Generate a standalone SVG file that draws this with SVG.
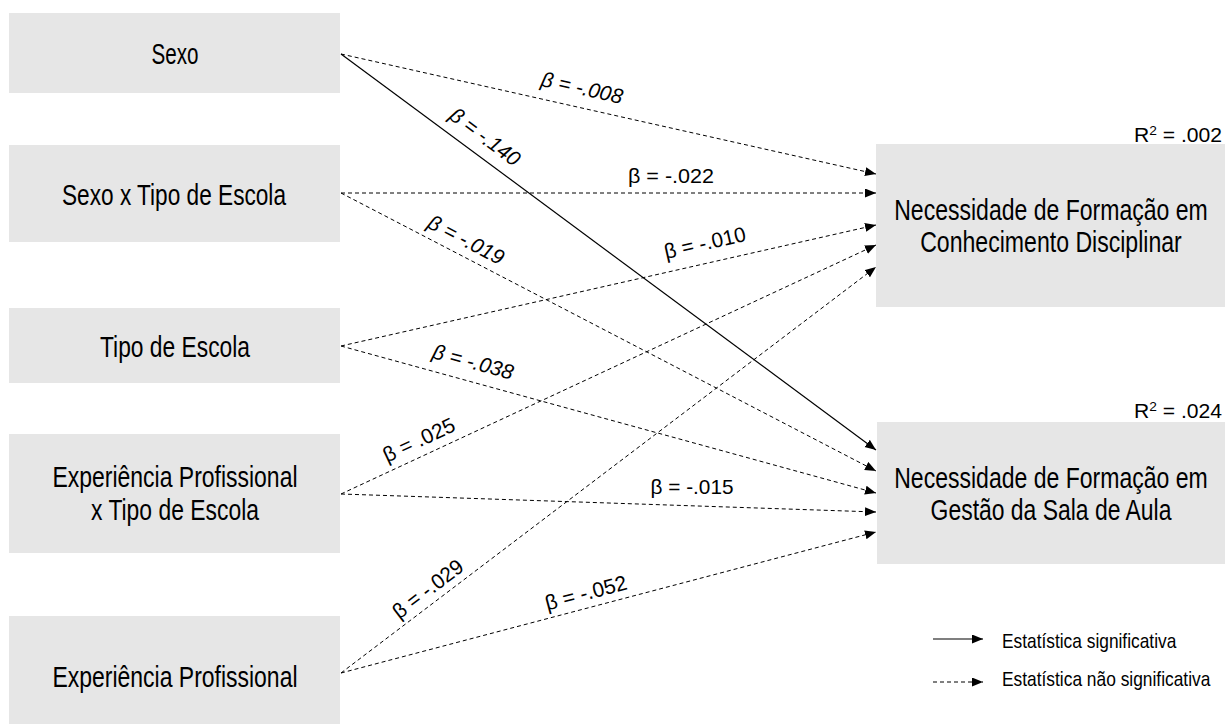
<svg xmlns="http://www.w3.org/2000/svg" width="1225" height="724" viewBox="0 0 1225 724">
<style>
.box{fill:#e6e6e6;stroke:none}
.nt{font-family:"Liberation Sans Narrow","Liberation Sans",Arial,sans-serif;font-size:29px;fill:#000;text-anchor:middle}
.lb{font-family:"Liberation Sans Narrow","Liberation Sans",Arial,sans-serif;font-size:21px;fill:#000;text-anchor:middle}
.it{font-style:italic}
.r2{font-family:"Liberation Sans Narrow","Liberation Sans",Arial,sans-serif;font-size:20px;fill:#000;text-anchor:end}
.lg{font-family:"Liberation Sans Narrow","Liberation Sans",Arial,sans-serif;font-size:20px;fill:#000}
.dash{stroke:#000;stroke-width:1;stroke-dasharray:4 3;fill:none;marker-end:url(#ah)}
.solid{stroke:#000;stroke-width:1.2;fill:none;marker-end:url(#ah)}
</style>
<defs>
<marker id="ah" markerUnits="userSpaceOnUse" markerWidth="12" markerHeight="10" refX="11" refY="4.5" orient="auto">
<path d="M0,0 L11,4.5 L0,9 z" fill="#000"/>
</marker>
</defs>
<rect width="1225" height="724" fill="#fff"/>

<g id="node-sexo">
<rect class="box" x="9" y="13" width="331" height="80"/>
<text class="nt" x="175" y="64" textLength="47" lengthAdjust="spacingAndGlyphs">Sexo</text>
</g>
<g id="node-sexo-tipo">
<rect class="box" x="9" y="145" width="331" height="97"/>
<text class="nt" x="174" y="205" textLength="224" lengthAdjust="spacingAndGlyphs">Sexo x Tipo de Escola</text>
</g>
<g id="node-tipo">
<rect class="box" x="9" y="308" width="331" height="75"/>
<text class="nt" x="175" y="357" textLength="150" lengthAdjust="spacingAndGlyphs">Tipo de Escola</text>
</g>
<g id="node-exp-tipo">
<rect class="box" x="9" y="434" width="331" height="119"/>
<text class="nt" x="175" y="487" textLength="245" lengthAdjust="spacingAndGlyphs">Experiência Profissional</text>
<text class="nt" x="175" y="520" textLength="168" lengthAdjust="spacingAndGlyphs">x Tipo de Escola</text>
</g>
<g id="node-exp">
<rect class="box" x="9" y="616" width="331" height="108"/>
<text class="nt" x="175" y="687" textLength="245" lengthAdjust="spacingAndGlyphs">Experiência Profissional</text>
</g>

<g id="node-conhecimento">
<rect class="box" x="876" y="144" width="349" height="163"/>
<text class="nt" transform="translate(1051,220) scale(0.8,1)" textLength="392" lengthAdjust="spacingAndGlyphs">Necessidade de Formação em</text>
<text class="nt" transform="translate(1051,252) scale(0.8,1)" textLength="327" lengthAdjust="spacingAndGlyphs">Conhecimento Disciplinar</text>
<text class="r2" x="1222" y="142" textLength="88" lengthAdjust="spacingAndGlyphs">R<tspan font-size="13" dy="-7">2</tspan><tspan dy="7"> = .002</tspan></text>
</g>
<g id="node-gestao">
<rect class="box" x="877" y="422" width="348" height="142"/>
<text class="nt" transform="translate(1051,488) scale(0.8,1)" textLength="392" lengthAdjust="spacingAndGlyphs">Necessidade de Formação em</text>
<text class="nt" transform="translate(1051,520) scale(0.8,1)" textLength="301" lengthAdjust="spacingAndGlyphs">Gestão da Sala de Aula</text>
<text class="r2" x="1222" y="418" textLength="88" lengthAdjust="spacingAndGlyphs">R<tspan font-size="13" dy="-7">2</tspan><tspan dy="7"> = .024</tspan></text>
</g>

<g id="connectors">
<line class="dash" x1="341" y1="54" x2="876" y2="174"/>
<line class="solid" x1="341" y1="54" x2="876" y2="450"/>
<line class="dash" x1="341" y1="193" x2="876" y2="193"/>
<line class="dash" x1="341" y1="193" x2="876" y2="471"/>
<line class="dash" x1="341" y1="346" x2="876" y2="225"/>
<line class="dash" x1="341" y1="346" x2="876" y2="493"/>
<line class="dash" x1="341" y1="494" x2="876" y2="245"/>
<line class="dash" x1="341" y1="494" x2="876" y2="512"/>
<line class="dash" x1="341" y1="673" x2="876" y2="267"/>
<line class="dash" x1="341" y1="673" x2="876" y2="532"/>
</g>

<g id="labels">
<text class="lb it" transform="translate(582,88) rotate(12.7)" y="7" textLength="83" lengthAdjust="spacingAndGlyphs">β = -.008</text>
<text class="lb it" transform="translate(485,137) rotate(36.7)" y="7" textLength="82" lengthAdjust="spacingAndGlyphs">β = -.140</text>
<text class="lb" transform="translate(671,176)" y="7" textLength="86" lengthAdjust="spacingAndGlyphs">β = -.022</text>
<text class="lb it" transform="translate(466,240) rotate(27.6)" y="7" textLength="83" lengthAdjust="spacingAndGlyphs">β = -.019</text>
<text class="lb" transform="translate(705,243) rotate(-12.8)" y="7" textLength="83" lengthAdjust="spacingAndGlyphs">β = -.010</text>
<text class="lb it" transform="translate(473,362) rotate(15.4)" y="7" textLength="83" lengthAdjust="spacingAndGlyphs">β = -.038</text>
<text class="lb" transform="translate(419,440) rotate(-25.1)" y="7" textLength="77" lengthAdjust="spacingAndGlyphs">β = .025</text>
<text class="lb" transform="translate(692,487)" y="7" textLength="83" lengthAdjust="spacingAndGlyphs">β = -.015</text>
<text class="lb" transform="translate(428,589) rotate(-37.3)" y="7" textLength="83" lengthAdjust="spacingAndGlyphs">β = -.029</text>
<text class="lb" transform="translate(586,593) rotate(-14.8)" y="7" textLength="84" lengthAdjust="spacingAndGlyphs">β = -.052</text>
</g>

<g id="legend">
<line class="solid" x1="933" y1="639" x2="983" y2="639"/>
<text class="lg" transform="translate(1002,648) scale(0.83,1)" textLength="210" lengthAdjust="spacingAndGlyphs">Estatística significativa</text>
<line class="dash" x1="933" y1="682" x2="983" y2="682"/>
<text class="lg" transform="translate(1002,686) scale(0.83,1)" textLength="251" lengthAdjust="spacingAndGlyphs">Estatística não significativa</text>
</g>
</svg>
